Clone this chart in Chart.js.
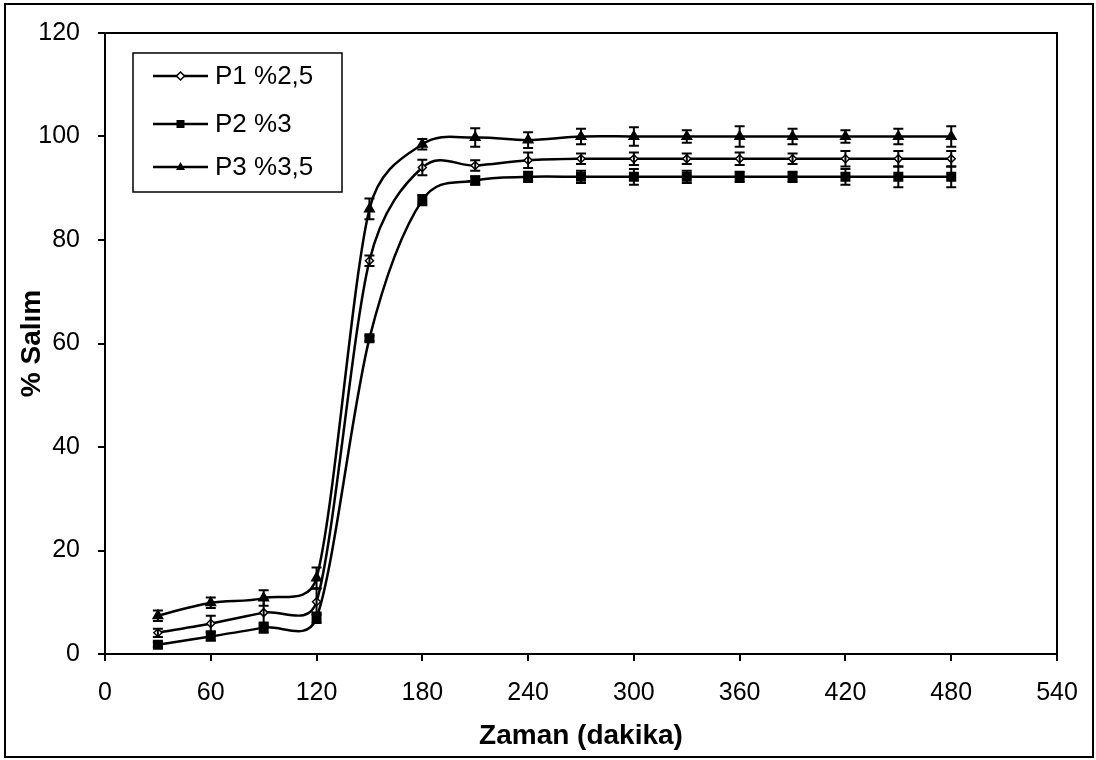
<!DOCTYPE html>
<html>
<head>
<meta charset="utf-8">
<script src="https://cdn.jsdelivr.net/npm/chart.js@4/dist/chart.umd.min.js"></script>
<style>
  body { margin: 0; background: #fff; }
  #wrap { width: 1096px; height: 760px; }
</style>
</head>
<body>
<div id="wrap"><canvas id="chart" width="1096" height="760"></canvas></div>
<script>
// time points (dakika)
const minutes = [30, 60, 90, 120, 150, 180, 210, 240, 270, 300, 330, 360, 390, 420, 450, 480];

// % salım values
const p1 = [4.1, 5.9, 8.0, 10.1, 76.0, 94.0, 94.4, 95.4, 95.7, 95.7, 95.7, 95.7, 95.7, 95.7, 95.7, 95.7];
const p2 = [1.8, 3.4, 5.1, 7.0, 61.0, 87.7, 91.5, 92.2, 92.2, 92.2, 92.2, 92.2, 92.2, 92.2, 92.2, 92.2];
const p3 = [7.4, 9.9, 10.8, 14.7, 86.0, 98.5, 99.8, 99.3, 100, 100, 100, 100, 100, 100, 100, 100];

// standard deviations (error bars)
const p1Err = [0.8, 1.5, 2.5, 2.5, 1.0, 1.5, 1.0, 1.5, 1.0, 1.2, 1.0, 1.2, 1.0, 1.5, 1.5, 1.5];
const p2Err = [0.5, 0.8, 1.0, 1.0, 0.5, 1.0, 0.8, 1.0, 1.2, 1.5, 1.2, 1.0, 1.0, 1.5, 2.0, 2.0];
const p3Err = [1.0, 1.0, 1.5, 2.0, 2.0, 1.0, 1.8, 1.5, 1.5, 1.8, 1.2, 2.0, 1.5, 1.2, 1.5, 2.0];

const seriesNames = ['P1 %2,5', 'P2 %3', 'P3 %3,5'];
const xTicks = [0, 60, 120, 180, 240, 300, 360, 420, 480, 540];
const yTicks = [0, 20, 40, 60, 80, 100, 120];

const FONT = '"Liberation Sans", Arial, sans-serif';

function toPoints(vals) {
    return minutes.map((m, i) => ({ x: m, y: vals[i] }));
}

function makeSet(label, vals, errs, style, radius, fill) {
    return {
        label: label,
        data: toPoints(vals),
        errors: errs,
        borderColor: '#000',
        borderWidth: 2.5,
        tension: 0.4,
        pointStyle: style,
        pointRadius: radius,
        pointBackgroundColor: fill,
        pointBorderColor: '#000',
        pointBorderWidth: 1.5,
        fill: false
    };
}

// spreadsheet-style smoothing: control arm = chord/6, capped at half of each neighbouring segment
const smoothLines = {
    id: 'smoothLines',
    beforeDatasetsDraw(chart) {
        chart.data.datasets.forEach((ds, di) => {
            const meta = chart.getDatasetMeta(di);
            meta.dataset.updateControlPoints(chart.chartArea, 'x');
            const pts = meta.data;
            pts.forEach((p, i) => {
                const a = pts[Math.max(i - 1, 0)];
                const b = pts[Math.min(i + 1, pts.length - 1)];
                const dx = b.x - a.x, dy = b.y - a.y;
                const chord = Math.hypot(dx, dy) || 1;
                const ux = dx / chord, uy = dy / chord;
                const dPrev = Math.hypot(p.x - a.x, p.y - a.y);
                const dNext = Math.hypot(b.x - p.x, b.y - p.y);
                const back = Math.min(chord / 6, dPrev / 2);
                const fwd = Math.min(chord / 6, dNext / 2);
                p.cp1x = p.x - ux * back; p.cp1y = p.y - uy * back;
                p.cp2x = p.x + ux * fwd; p.cp2y = p.y + uy * fwd;
            });
        });
    }
};

// error bars, drawn through the chart's own scales
const errorBars = {
    id: 'errorBars',
    afterDatasetsDraw(chart) {
        const ctx = chart.ctx;
        const xs = chart.scales.x, ys = chart.scales.y;
        ctx.save();
        ctx.strokeStyle = '#000';
        ctx.lineWidth = 2;
        chart.data.datasets.forEach(ds => {
            ds.data.forEach((p, i) => {
                const e = ds.errors[i];
                const px = xs.getPixelForValue(p.x);
                const top = ys.getPixelForValue(p.y + e);
                const bot = ys.getPixelForValue(p.y - e);
                ctx.beginPath();
                ctx.moveTo(px, top); ctx.lineTo(px, bot);
                ctx.moveTo(px - 5, top); ctx.lineTo(px + 5, top);
                ctx.moveTo(px - 5, bot); ctx.lineTo(px + 5, bot);
                ctx.stroke();
            });
        });
        ctx.restore();
    }
};

function drawMarker(ctx, style, x, y) {
    ctx.beginPath();
    if (style === 'rectRot') {
        ctx.moveTo(x, y - 4); ctx.lineTo(x + 4, y); ctx.lineTo(x, y + 4); ctx.lineTo(x - 4, y);
        ctx.closePath();
        ctx.fillStyle = '#fff'; ctx.fill();
        ctx.lineWidth = 1.5; ctx.stroke();
    } else if (style === 'rect') {
        ctx.rect(x - 4, y - 4, 8, 8);
        ctx.fillStyle = '#000'; ctx.fill();
    } else {
        ctx.moveTo(x, y - 5); ctx.lineTo(x + 4.5, y + 3); ctx.lineTo(x - 4.5, y + 3);
        ctx.closePath();
        ctx.fillStyle = '#000'; ctx.fill();
    }
}

// frame: outer border, top/right of plot, and the boxed legend
const frame = {
    id: 'frame',
    afterDraw(chart) {
        const ctx = chart.ctx;
        const a = chart.chartArea;
        ctx.save();
        ctx.strokeStyle = '#000';
        ctx.lineWidth = 2;
        ctx.strokeRect(5, 4, 1088, 753);

        ctx.beginPath();
        ctx.moveTo(a.left, a.top); ctx.lineTo(a.right, a.top); ctx.lineTo(a.right, a.bottom);
        ctx.stroke();

        // legend box
        const bx = 133, by = 53, bw = 209, bh = 139;
        ctx.fillStyle = '#fff';
        ctx.fillRect(bx, by, bw, bh);
        ctx.lineWidth = 1.5;
        ctx.strokeRect(bx, by, bw, bh);

        const rows = [76, 124, 167];
        ctx.font = '26px ' + FONT;
        ctx.textBaseline = 'middle';
        chart.data.datasets.forEach((ds, i) => {
            const y = rows[i];
            ctx.strokeStyle = '#000';
            ctx.lineWidth = 2.5;
            ctx.beginPath();
            ctx.moveTo(153, y); ctx.lineTo(208, y);
            ctx.stroke();
            drawMarker(ctx, ds.pointStyle, 180.5, y);
            ctx.fillStyle = '#000';
            ctx.fillText(ds.label, 215, y + 1);
        });
        ctx.restore();
    }
};

new Chart(document.getElementById('chart'), {
    type: 'line',
    data: {
        datasets: [
            makeSet(seriesNames[0], p1, p1Err, 'rectRot', 4, '#fff'),
            makeSet(seriesNames[1], p2, p2Err, 'rect', 6, '#000'),
            makeSet(seriesNames[2], p3, p3Err, 'triangle', 5.5, '#000')
        ]
    },
    options: {
        responsive: false,
        animation: false,
        layout: { padding: { top: 33, right: 39, left: 0, bottom: 0 } },
        plugins: {
            legend: { display: false },
            tooltip: { enabled: false }
        },
        scales: {
            x: {
                type: 'linear',
                min: 0,
                max: 540,
                afterBuildTicks: s => { s.ticks = xTicks.map(v => ({ value: v })); },
                afterFit: s => { s.height = 106; },
                grid: { drawOnChartArea: false, drawTicks: true, tickLength: 7, color: '#000', lineWidth: 2 },
                border: { color: '#000', width: 2 },
                ticks: { color: '#000', font: { family: FONT, size: 25 }, padding: 17, maxRotation: 0 },
                title: {
                    display: true,
                    text: 'Zaman (dakika)',
                    color: '#000',
                    font: { family: FONT, size: 28, weight: 'bold' },
                    padding: { top: 0, bottom: 7 }
                }
            },
            y: {
                min: 0,
                max: 120,
                afterBuildTicks: s => { s.ticks = yTicks.map(v => ({ value: v })); },
                afterFit: s => { s.width = 105; },
                grid: { drawOnChartArea: false, drawTicks: true, tickLength: 7, color: '#000', lineWidth: 2 },
                border: { color: '#000', width: 2 },
                ticks: { color: '#000', font: { family: FONT, size: 25 }, padding: 18 },
                title: {
                    display: true,
                    text: '% Salım',
                    color: '#000',
                    font: { family: FONT, size: 28, weight: 'bold' },
                    padding: { top: 15, bottom: 0 }
                }
            }
        }
    },
    plugins: [smoothLines, errorBars, frame]
});
</script>
</body>
</html>
